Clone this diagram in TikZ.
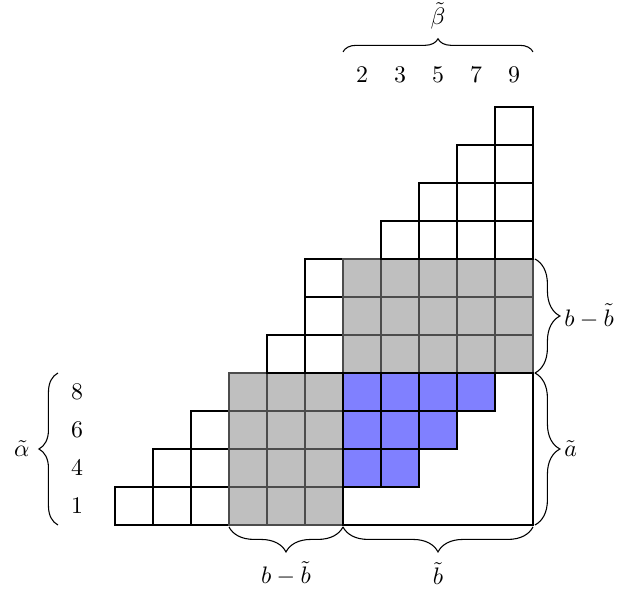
\documentclass[tikz,border=0pt]{standalone}
\usepackage{amsmath}
\usepackage{tikz}
\usetikzlibrary{decorations.pathreplacing}

\begin{document}
\begin{tikzpicture}[x=0.56cm,y=0.56cm,
  cellw/.style={draw=black,fill=white,line width=0.45pt},
  cellg/.style={draw=black!70,fill=black!25,line width=0.45pt},
  cellb/.style={draw=black,fill=blue!50,line width=0.45pt},
  br/.style={decorate,decoration={brace,amplitude=#1},line width=0.45pt},
  br/.default=9pt]
\useasboundingbox (-3.026,-1.711) rectangle (13.316,13.816);
% staircase of cells
\foreach \j in {0,1,2}{
  \foreach \i in {\j,...,2}{\draw[cellw] (\i,\j) rectangle ++(1,1);}
}
\foreach \j in {0,...,3}{
  \foreach \i in {3,4,5}{\draw[cellg] (\i,\j) rectangle ++(1,1);}
}
\foreach \j in {4,5,6}{
  \foreach \i in {\j,...,5}{\draw[cellw] (\i,\j) rectangle ++(1,1);}
  \foreach \i in {6,...,10}{\draw[cellg] (\i,\j) rectangle ++(1,1);}
}
\foreach \j in {7,...,10}{
  \foreach \i in {\j,...,10}{\draw[cellw] (\i,\j) rectangle ++(1,1);}
}
\foreach \j in {1,2,3}{
  \pgfmathtruncatemacro{\last}{6+\j}
  \foreach \i in {6,...,\last}{\draw[cellb] (\i,\j) rectangle ++(1,1);}
}
\draw[line width=0.45pt] (6,0) rectangle (11,4);
% corner points for the braces
\coordinate (bl) at (3,-0.05); \coordinate (bm) at (6,-0.05); \coordinate (br) at (11,-0.05);
\coordinate (rb) at (11.05,0); \coordinate (rm) at (11.05,4); \coordinate (rt) at (11.05,7);
\coordinate (lb) at (-1.5,0); \coordinate (lt) at (-1.5,4);
\coordinate (tl) at (6,12.45); \coordinate (tr) at (11,12.45);
% row and column labels
\foreach \v [count=\k from 0] in {1,4,6,8}
  \node (row\k) at (-1,\k+0.5) {$\v$};
\foreach \v [count=\k from 0] in {2,3,5,7,9}
  \node (col\k) at (6.5+\k,11.85) {$\v$};
% braces
\draw[br=8pt] (lb) -- (lt);
\draw[br=5.5pt] (tl) -- (tr);
\draw[br=10.5pt] (rt) -- (rm);
\draw[br=10.5pt] (rm) -- (rb);
\draw[br=10.5pt] (bm) -- (bl);
\draw[br=10.5pt] (br) -- (bm);
\node (alpha) at (-2.45,2) {$\tilde\alpha$};
\node (beta) at (8.5,13.4) {$\tilde\beta$};
\node[anchor=west,inner sep=1pt] (bbr) at (11.75,5.5) {$b-\tilde b$};
\node[anchor=west,inner sep=1pt] (ar) at (11.75,2) {$\tilde a$};
\node (bbb) at (4.5,-1.27) {$b-\tilde b$};
\node (bt) at (8.5,-1.27) {$\tilde b$};
\end{tikzpicture}
\end{document}
